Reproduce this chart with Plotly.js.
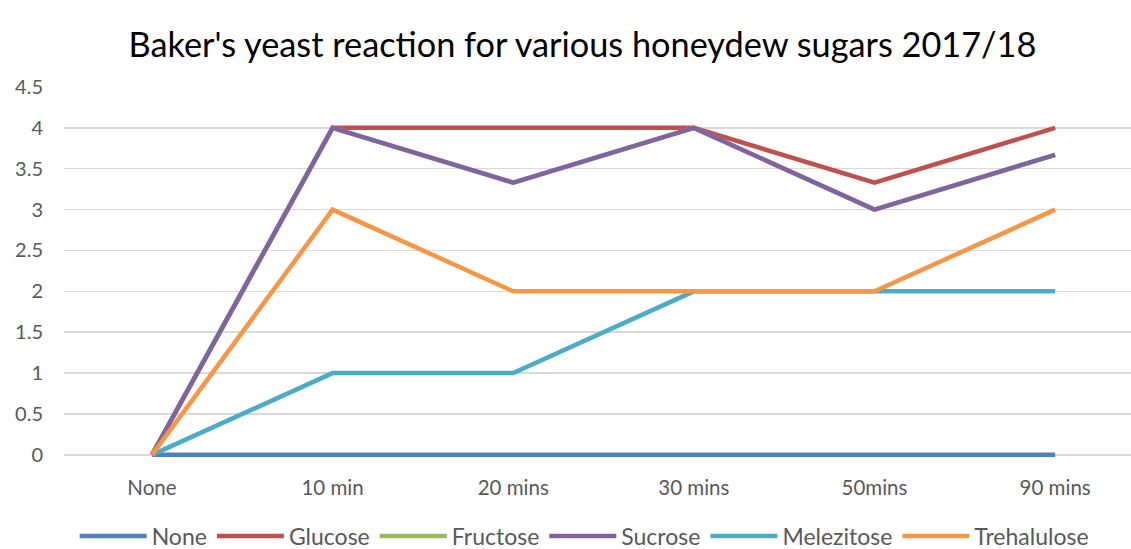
<!DOCTYPE html>
<html>
<head>
<meta charset="utf-8">
<script src="https://cdn.plot.ly/plotly-3.0.1.min.js"></script>
<style>html,body{margin:0;padding:0;background:#fff;}#chart{width:1131px;height:549px;}</style>
</head>
<body>
<div id="chart"></div>
<script>
const categories = ["None", "10 min", "20 mins", "30 mins", "50mins", "90 mins"];
const seriesNames = ["None", "Glucose", "Fructose", "Sucrose", "Melezitose", "Trehalulose"];
const noneVals = [0, 0, 0, 0, 0, 0];
const glucoseVals = [0, 4, 4, 4, 3.33, 4];
const fructoseVals = [0, 4, 3.33, 4, 3, 3.67];
const sucroseVals = [0, 4, 3.33, 4, 3, 3.67];
const melezitoseVals = [0, 1, 1, 2, 2, 2];
const trehaluloseVals = [0, 3, 2, 2, 2, 3];
const colors = ["#4F81BD", "#C0504D", "#9BBB59", "#8064A2", "#4BACC6", "#F79646"];
const yTicks = [0, 0.5, 1, 1.5, 2, 2.5, 3, 3.5, 4, 4.5];
const yTickText = ["0", "0.5", "1", "1.5", "2", "2.5", "3", "3.5", "4", "4.5"];

const allVals = [noneVals, glucoseVals, fructoseVals, sucroseVals, melezitoseVals, trehaluloseVals];
const traces = allVals.map((v, i) => ({
  type: "scatter",
  mode: "lines",
  name: seriesNames[i],
  x: [0, 1, 2, 3, 4, 5],
  y: v,
  line: {color: colors[i], width: 4.5, shape: "linear"},
  hoverinfo: "skip"
}));

const fontFam = "Lato, 'Open Sans', sans-serif";
const layout = {
  width: 1131,
  height: 549,
  margin: {l: 64, r: 0, t: 87, b: 86},
  paper_bgcolor: "#ffffff",
  plot_bgcolor: "#ffffff",
  title: {
    text: "Baker's yeast reaction for various honeydew sugars 2017/18",
    font: {family: fontFam, size: 34.3, color: "#000000"},
    x: 0.515, xanchor: "center",
    y: 0.918, yanchor: "middle", yref: "container"
  },
  xaxis: {
    range: [-0.487, 5.42],
    tickvals: [0, 1, 2, 3, 4, 5],
    ticktext: categories,
    showgrid: false,
    zeroline: false,
    showline: false,
    ticks: "",
    ticklabelstandoff: 10,
    tickfont: {family: fontFam, size: 20.5, color: "#595959"},
    fixedrange: true
  },
  yaxis: {
    range: [-0.1, 4.5],
    tickvals: yTicks,
    ticktext: yTickText,
    showgrid: true,
    gridcolor: "#d9d9d9",
    gridwidth: 1.5,
    zeroline: false,
    showline: false,
    ticks: "",
    ticklabelstandoff: 20,
    tickfont: {family: fontFam, size: 20, color: "#595959"},
    fixedrange: true
  },
  showlegend: true,
  legend: {
    orientation: "h",
    xref: "container",
    x: 0.066, xanchor: "left",
    y: 0.0235, yref: "container", yanchor: "middle",
    font: {family: fontFam, size: 23, color: "#595959"},
    itemwidth: 67,
    tracegroupgap: 0,
    bgcolor: "rgba(0,0,0,0)"
  }
};

Plotly.newPlot("chart", traces, layout, {displayModeBar: false, staticPlot: true});
</script>
</body>
</html>
